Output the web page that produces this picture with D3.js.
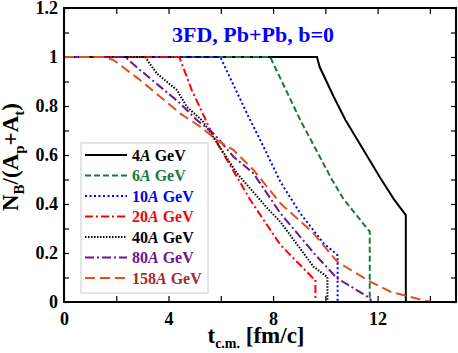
<!DOCTYPE html>
<html>
<head>
<meta charset="utf-8">
<script src="https://cdn.jsdelivr.net/npm/d3@7"></script>
<style>
  body { margin: 0; background: #fff; }
  svg text { font-family: "Liberation Serif", "Times New Roman", serif; font-weight: bold; }
</style>
</head>
<body>
<div id="chart"></div>
<script>
var W = 458, H = 353;

// energies (A GeV) for the legend
var energies = ["4", "6", "10", "20", "40", "80", "158"];

// time (fm/c) and N_B/(A_p+A_t)
var t4   = [0, 9.68, 9.78, 10.32, 10.77, 12.11, 12.62, 13.08, 13.08];
var nb4  = [1, 1, 0.96, 0.838, 0.743, 0.505, 0.42, 0.355, 0];

var t6   = [0, 7.89, 9.04, 10.26, 10.70, 11.70, 11.70];
var nb6  = [1, 1, 0.743, 0.498, 0.42, 0.287, 0];

var t10  = [0, 5.98, 7.06, 7.51, 8.28, 9.04, 9.93, 10.38, 10.47, 10.47];
var nb10 = [1, 1, 0.756, 0.661, 0.491, 0.362, 0.24, 0.2, 0.19, 0];

var t20  = [0, 4.41, 4.89, 5.72, 7.13, 8.28, 9.55, 9.62, 9.62];
var nb20 = [1, 1, 0.865, 0.675, 0.416, 0.233, 0.095, 0.09, 0];

var t40  = [0, 3.10, 3.55, 4.32, 4.70, 5.30, 6.62, 7.77, 8.28, 9.55, 10.08, 10.08];
var nb40 = [1, 1, 0.933, 0.865, 0.797, 0.74, 0.525, 0.384, 0.327, 0.144, 0.102, 0];

var t80  = [0, 2.34, 2.91, 3.68, 4.44, 5.08, 5.72, 6.49, 7.25, 8.28, 9.68, 10.45, 11.72, 11.75];
var nb80 = [1, 1, 0.947, 0.879, 0.811, 0.743, 0.688, 0.593, 0.525, 0.362, 0.185, 0.097, 0.015, 0];

var t158  = [0, 1.5, 1.89, 2.91, 3.68, 4.44, 5.21, 5.85, 6.49, 7.25, 8.28, 9.55, 10.45, 11.72, 12.49, 14.02];
var nb158 = [1, 1, 0.988, 0.906, 0.838, 0.770, 0.716, 0.661, 0.620, 0.539, 0.403, 0.280, 0.165, 0.083, 0.042, 0];

var xTicks = [0, 2, 4, 6, 8, 10, 12, 14];
var yTicks = [0, 0.1, 0.2, 0.3, 0.4, 0.5, 0.6, 0.7, 0.8, 0.9, 1, 1.1, 1.2];

var series = [
  {t: t4,   v: nb4,   color: "#000000", text: "#000000", dash: null},
  {t: t6,   v: nb6,   color: "#1a7a3c", text: "#1a7a3c", dash: "6,3"},
  {t: t10,  v: nb10,  color: "#0000ff", text: "#0000ff", dash: "2,2.5"},
  {t: t20,  v: nb20,  color: "#ff0000", text: "#ff0000", dash: "8,3,2,3"},
  {t: t40,  v: nb40,  color: "#000000", text: "#000000", dash: "1.5,1.5"},
  {t: t80,  v: nb80,  color: "#6a168c", text: "#6a168c", dash: "9,3,2,3"},
  {t: t158, v: nb158, color: "#e0521a", text: "#a52a2a", dash: "10,5"}
];

var margin = {left: 64, right: 2, top: 8, bottom: 51};

var svg = d3.select("#chart").append("svg")
  .attr("width", W)
  .attr("height", H);

var x = d3.scaleLinear().domain([0, 15]).range([margin.left, W - margin.right]);
var y = d3.scaleLinear().domain([0, 1.2]).range([H - margin.bottom, margin.top]);

// axes, ticks pointing inward
var fmtX = function(d){ return d % 4 === 0 ? d : ""; };
var fmtY = function(d){ return Math.round(d * 10) % 2 === 0 ? d3.format("~g")(d) : ""; };

var gx = svg.append("g")
  .attr("transform", "translate(0," + y(0) + ")")
  .call(d3.axisBottom(x).tickValues(xTicks).tickFormat(fmtX).tickSize(-6).tickPadding(10));
svg.append("g")
  .attr("transform", "translate(0," + y(1.2) + ")")
  .call(d3.axisTop(x).tickValues(xTicks).tickFormat("").tickSize(-6));
var gy = svg.append("g")
  .attr("transform", "translate(" + x(0) + ",0)")
  .call(d3.axisLeft(y).tickValues(yTicks).tickFormat(fmtY).tickSize(-5).tickPadding(6));
svg.append("g")
  .attr("transform", "translate(" + x(15) + ",0)")
  .call(d3.axisRight(y).tickValues(yTicks).tickFormat("").tickSize(-5));

svg.selectAll(".domain").remove();
svg.selectAll(".tick line").attr("stroke", "#000").attr("stroke-width", 1.2);
gx.selectAll("text").style("font-size", "18px").attr("fill", "#000");
gy.selectAll("text").style("font-size", "18px").attr("fill", "#000");

// curves
var line = d3.line()
  .x(function(d){ return x(d[0]); })
  .y(function(d){ return y(d[1]); });

series.forEach(function(s){
  var pts = s.t.map(function(t, i){ return [t, s.v[i]]; });
  svg.append("path")
    .attr("d", line(pts))
    .attr("fill", "none")
    .attr("stroke", s.color)
    .attr("stroke-width", 2)
    .attr("stroke-dasharray", s.dash);
});

// frame
svg.append("rect")
  .attr("x", x(0))
  .attr("y", y(1.2))
  .attr("width", x(15) - x(0))
  .attr("height", y(0) - y(1.2))
  .attr("fill", "none")
  .attr("stroke", "#000")
  .attr("stroke-width", 2);

// title
svg.append("text")
  .attr("x", 253)
  .attr("y", 42)
  .attr("text-anchor", "middle")
  .attr("fill", "#0000ff")
  .style("font-size", "22px")
  .text("3FD, Pb+Pb, b=0");

// legend
var legend = svg.append("g");
legend.append("rect")
  .attr("x", 81)
  .attr("y", 143)
  .attr("width", 127)
  .attr("height", 150)
  .attr("fill", "#fff")
  .attr("stroke", "#cccccc")
  .attr("stroke-width", 1);

series.forEach(function(s, i){
  var yy = 155 + i * 20.5;
  legend.append("line")
    .attr("x1", 85).attr("x2", 127)
    .attr("y1", yy).attr("y2", yy)
    .attr("stroke", s.color)
    .attr("stroke-width", 2)
    .attr("stroke-dasharray", s.dash);
  var tx = legend.append("text")
    .attr("x", 132)
    .attr("y", yy + 5.5)
    .attr("fill", s.text)
    .style("font-size", "16px");
  tx.append("tspan").text(energies[i]);
  tx.append("tspan").style("font-style", "italic").text("A");
  tx.append("tspan").text(" GeV");
});

// x label
var xl = svg.append("text")
  .attr("x", 256)
  .attr("y", 343)
  .attr("text-anchor", "middle")
  .attr("fill", "#000")
  .style("font-size", "23px");
xl.append("tspan").text("t");
xl.append("tspan").attr("dy", 5).style("font-size", "14px").text("c.m.");
xl.append("tspan").attr("dy", -5).text(" [fm/c]");

// y label
var yl = svg.append("text")
  .attr("transform", "translate(18," + 157 + ") rotate(-90)")
  .attr("text-anchor", "middle")
  .attr("fill", "#000")
  .style("font-size", "23px");
yl.append("tspan").text("N");
yl.append("tspan").attr("dy", 6).style("font-size", "15px").text("B");
yl.append("tspan").attr("dy", -6).text("/(A");
yl.append("tspan").attr("dy", 6).style("font-size", "15px").text("p");
yl.append("tspan").attr("dy", -6).text("+A");
yl.append("tspan").attr("dy", 6).style("font-size", "15px").text("t");
yl.append("tspan").attr("dy", -6).text(")");
</script>
</body>
</html>
